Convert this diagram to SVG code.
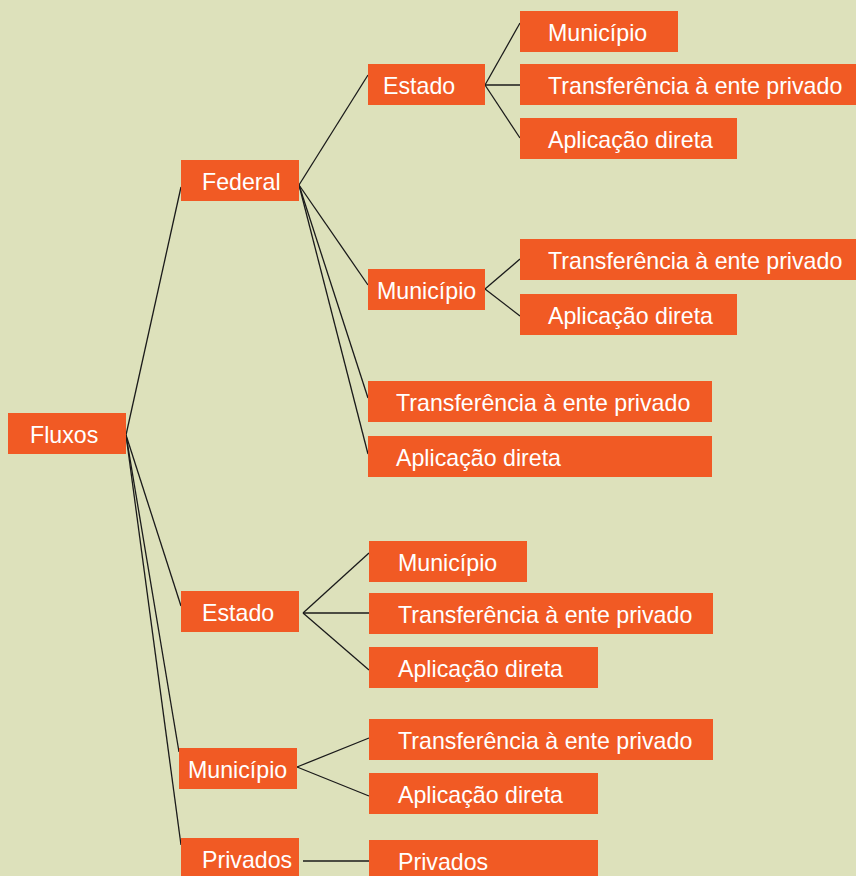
<svg xmlns="http://www.w3.org/2000/svg" width="856" height="876" viewBox="0 0 856 876">
<style>
.b{fill:#F15A24}
.t{fill:#FFFFFF;font-family:"Liberation Sans",Arial,sans-serif;font-size:23.2px}
.c{stroke:#1A1A1A;stroke-width:1.3;fill:none}
</style>
<rect width="856" height="876" fill="#DDE1BB"/>
<g id="connectors" class="c">
<path d="M126 435 L181 187"/>
<path d="M126 435 L181 606"/>
<path d="M126 435 L179 752"/>
<path d="M126 435 L181 845"/>
<path d="M299 185 L368 75"/>
<path d="M299 185 L368 285"/>
<path d="M299 185 L368 398"/>
<path d="M299 185 L368 454"/>
<path d="M485 85 L520 23"/>
<path d="M485 85 L520 85"/>
<path d="M485 85 L520 138"/>
<path d="M485 289 L520 259"/>
<path d="M485 289 L520 316"/>
<path d="M303 613 L369 553"/>
<path d="M303 613 L369 613"/>
<path d="M303 613 L369 670"/>
<path d="M297 767 L369 738"/>
<path d="M297 767 L369 796"/>
<path d="M303 861 L369 861"/>
</g>
<g id="fluxos"><rect class="b" x="8" y="413" width="118" height="41"/><text class="t" x="30" y="443">Fluxos</text></g>
<g id="federal"><rect class="b" x="181" y="160" width="118" height="41"/><text class="t" x="202" y="190">Federal</text></g>
<g id="fed-estado"><rect class="b" x="368" y="64" width="117" height="41"/><text class="t" x="383" y="94">Estado</text></g>
<g id="fed-estado-municipio"><rect class="b" x="520" y="11" width="158" height="41"/><text class="t" x="548" y="41">Município</text></g>
<g id="fed-estado-transf"><rect class="b" x="520" y="64" width="336" height="41"/><text class="t" x="548" y="94">Transferência à ente privado</text></g>
<g id="fed-estado-aplic"><rect class="b" x="520" y="118" width="217" height="41"/><text class="t" x="548" y="148">Aplicação direta</text></g>
<g id="fed-municipio"><rect class="b" x="368" y="269" width="117" height="41"/><text class="t" x="377" y="299">Município</text></g>
<g id="fed-municipio-transf"><rect class="b" x="520" y="239" width="336" height="41"/><text class="t" x="548" y="269">Transferência à ente privado</text></g>
<g id="fed-municipio-aplic"><rect class="b" x="520" y="294" width="217" height="41"/><text class="t" x="548" y="324">Aplicação direta</text></g>
<g id="fed-transf"><rect class="b" x="368" y="381" width="344" height="41"/><text class="t" x="396" y="411">Transferência à ente privado</text></g>
<g id="fed-aplic"><rect class="b" x="368" y="436" width="344" height="41"/><text class="t" x="396" y="466">Aplicação direta</text></g>
<g id="estado"><rect class="b" x="181" y="591" width="118" height="41"/><text class="t" x="202" y="621">Estado</text></g>
<g id="estado-municipio"><rect class="b" x="369" y="541" width="158" height="41"/><text class="t" x="398" y="571">Município</text></g>
<g id="estado-transf"><rect class="b" x="369" y="593" width="344" height="41"/><text class="t" x="398" y="623">Transferência à ente privado</text></g>
<g id="estado-aplic"><rect class="b" x="369" y="647" width="229" height="41"/><text class="t" x="398" y="677">Aplicação direta</text></g>
<g id="municipio"><rect class="b" x="179" y="748" width="118" height="41"/><text class="t" x="188" y="778">Município</text></g>
<g id="municipio-transf"><rect class="b" x="369" y="719" width="344" height="41"/><text class="t" x="398" y="749">Transferência à ente privado</text></g>
<g id="municipio-aplic"><rect class="b" x="369" y="773" width="229" height="41"/><text class="t" x="398" y="803">Aplicação direta</text></g>
<g id="privados"><rect class="b" x="181" y="838" width="118" height="41"/><text class="t" x="202" y="868">Privados</text></g>
<g id="privados-privados"><rect class="b" x="369" y="840" width="229" height="41"/><text class="t" x="398" y="870">Privados</text></g>
</svg>
